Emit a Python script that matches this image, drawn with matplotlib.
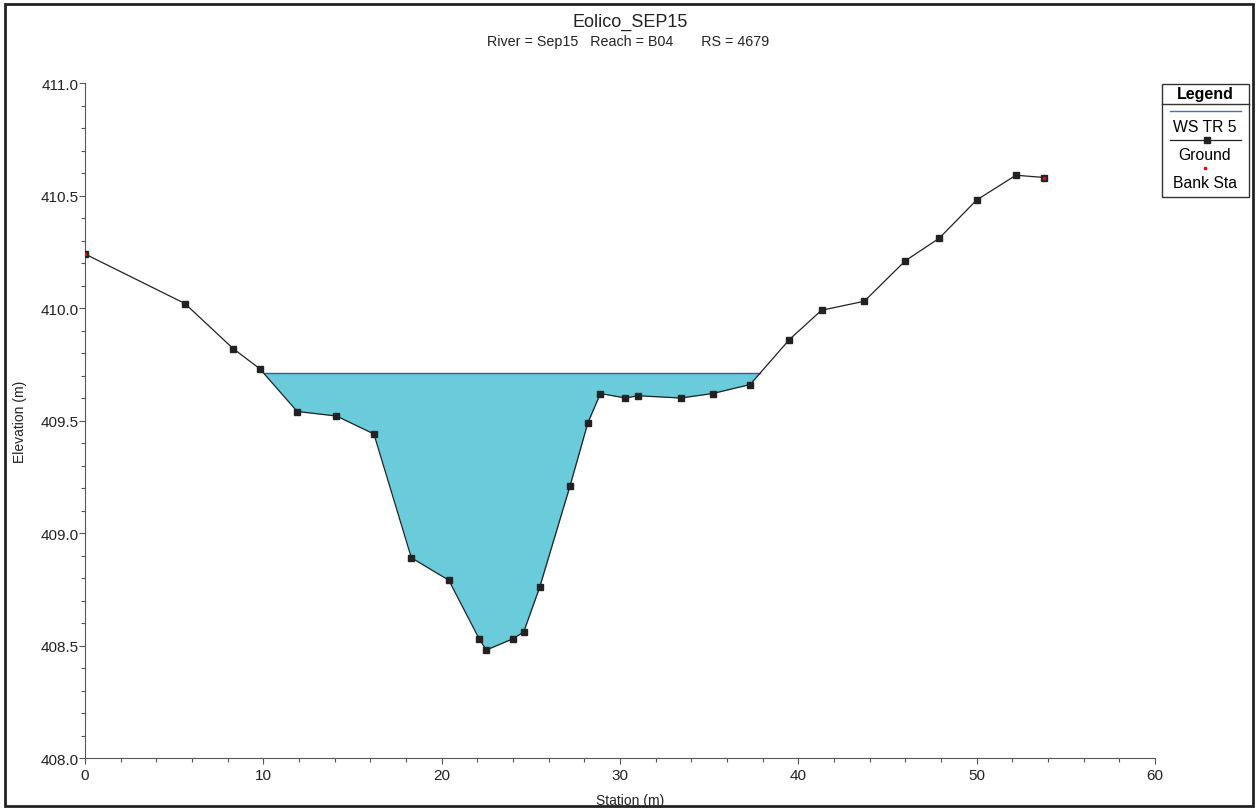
import matplotlib
matplotlib.use('Agg')
import matplotlib.pyplot as plt
from matplotlib.patches import Rectangle
from matplotlib.lines import Line2D
import numpy as np

plt.rcParams['font.family'] = ['Liberation Sans', 'DejaVu Sans']

# ground profile
station = [0.0, 5.6, 8.3, 9.8, 11.9, 14.1, 16.2, 18.3, 20.4, 22.1, 22.5, 24.0,
           24.6, 25.5, 27.2, 28.2, 28.9, 30.3, 31.0, 33.4, 35.2, 37.3, 39.5,
           41.3, 43.7, 46.0, 47.9, 50.0, 52.2, 53.8]
elev = [410.24, 410.02, 409.82, 409.73, 409.54, 409.52, 409.44, 408.89, 408.79,
        408.53, 408.48, 408.53, 408.56, 408.76, 409.21, 409.49, 409.62, 409.60,
        409.61, 409.60, 409.62, 409.66, 409.86, 409.99, 410.03, 410.21, 410.31,
        410.48, 410.59, 410.58]
ws_elev = 409.71
bank_sta = [0.0, 53.8]
bank_elev = [410.24, 410.58]

fig = plt.figure(figsize=(12.58, 8.12), dpi=100)
ax = fig.add_axes([85/1258, 1-759/812, (1155-85)/1258, (759-84)/812])

x = np.array(station)
y = np.array(elev)
# water fill between ground and WS
xf = np.linspace(x.min(), x.max(), 4000)
yf = np.interp(xf, x, y)
wet = yf <= ws_elev
ax.fill_between(xf, yf, ws_elev, where=wet, color='#6acbdb', linewidth=0, zorder=1)
# WS line across wet extent
xs_wet = xf[wet]
ax.plot([xs_wet.min(), xs_wet.max()], [ws_elev, ws_elev], color='#3a55b0', lw=1.0, zorder=2)

ax.plot(x, y, color='#222222', lw=0.9, marker='s', ms=5, mfc='#222222', mec='#222222', zorder=3)
ax.plot(bank_sta, bank_elev, ls='none', marker='s', ms=1.8, color='red', zorder=4)

ax.set_xlim(0, 60)
ax.set_ylim(408.0, 411.0)
ax.set_xticks(np.arange(0, 61, 10))
ax.set_xticks(np.arange(0, 61, 2), minor=True)
ax.set_yticks(np.arange(408.0, 411.01, 0.5))
ax.set_yticks(np.arange(408.0, 411.01, 0.1), minor=True)
ax.set_yticklabels(['%.1f' % v for v in np.arange(408.0, 411.01, 0.5)])
for s in ['top', 'right']:
    ax.spines[s].set_visible(False)
for s in ['left', 'bottom']:
    ax.spines[s].set_color('#555555')
    ax.spines[s].set_linewidth(0.8)
ax.tick_params(which='major', length=4, width=0.8, color='#555555', labelsize=11, labelcolor='#222222', pad=0.5)
ax.tick_params(which='minor', length=3, width=0.8, color='#555555')
ax.tick_params(axis='x', which='major', pad=3.5)

fig.text(630/1258, 1-801/812, 'Station (m)', ha='center', va='center', fontsize=10, color='#222222')
fig.text(20/1258, 1-422/812, 'Elevation (m)', ha='center', va='center', fontsize=10,
         rotation=90, color='#222222')

fig.text(630/1258, 1-22/812, 'Eolico_SEP15', ha='center', va='center', fontsize=13, color='#222222')
fig.text(628/1258, 1-42/812, 'River = Sep15   Reach = B04       RS = 4679', ha='center', va='center',
         fontsize=10.3, color='#222222')

# outer border
fig.patches.append(Rectangle((5/1258, 5/812), 1248/1258, 802/812, transform=fig.transFigure,
                             fill=False, ec='#222222', lw=2))

# legend box
def fx(px):
    return px/1258
def fy(py):
    return 1-py/812
fig.patches.append(Rectangle((fx(1162), fy(198)), fx(1249)-fx(1162), fy(85)-fy(198),
                             transform=fig.transFigure, fill=False, ec='#333333', lw=1))
fig.lines.append(Line2D([fx(1162), fx(1249)], [fy(105), fy(105)], transform=fig.transFigure,
                        color='#333333', lw=1))
fig.text(fx(1205), fy(95), 'Legend', ha='center', va='center', fontsize=11.5, weight='bold')
fig.lines.append(Line2D([fx(1170), fx(1241)], [fy(112), fy(112)], transform=fig.transFigure,
                        color='#4a6cd0', lw=1))
fig.text(fx(1205), fy(127), 'WS TR 5', ha='center', va='center', fontsize=11.3)
fig.lines.append(Line2D([fx(1170), fx(1241)], [fy(141), fy(141)], transform=fig.transFigure,
                        color='#222222', lw=0.9))
fig.lines.append(Line2D([fx(1207)], [fy(141)], transform=fig.transFigure, ls='none',
                        marker='s', ms=5, color='#222222'))
fig.text(fx(1205), fy(155), 'Ground', ha='center', va='center', fontsize=11.3)
fig.lines.append(Line2D([fx(1205)], [fy(169)], transform=fig.transFigure, ls='none',
                        marker='s', ms=1.5, color='red'))
fig.text(fx(1205), fy(183), 'Bank Sta', ha='center', va='center', fontsize=11.3)

fig.savefig('out.png', dpi=100)
